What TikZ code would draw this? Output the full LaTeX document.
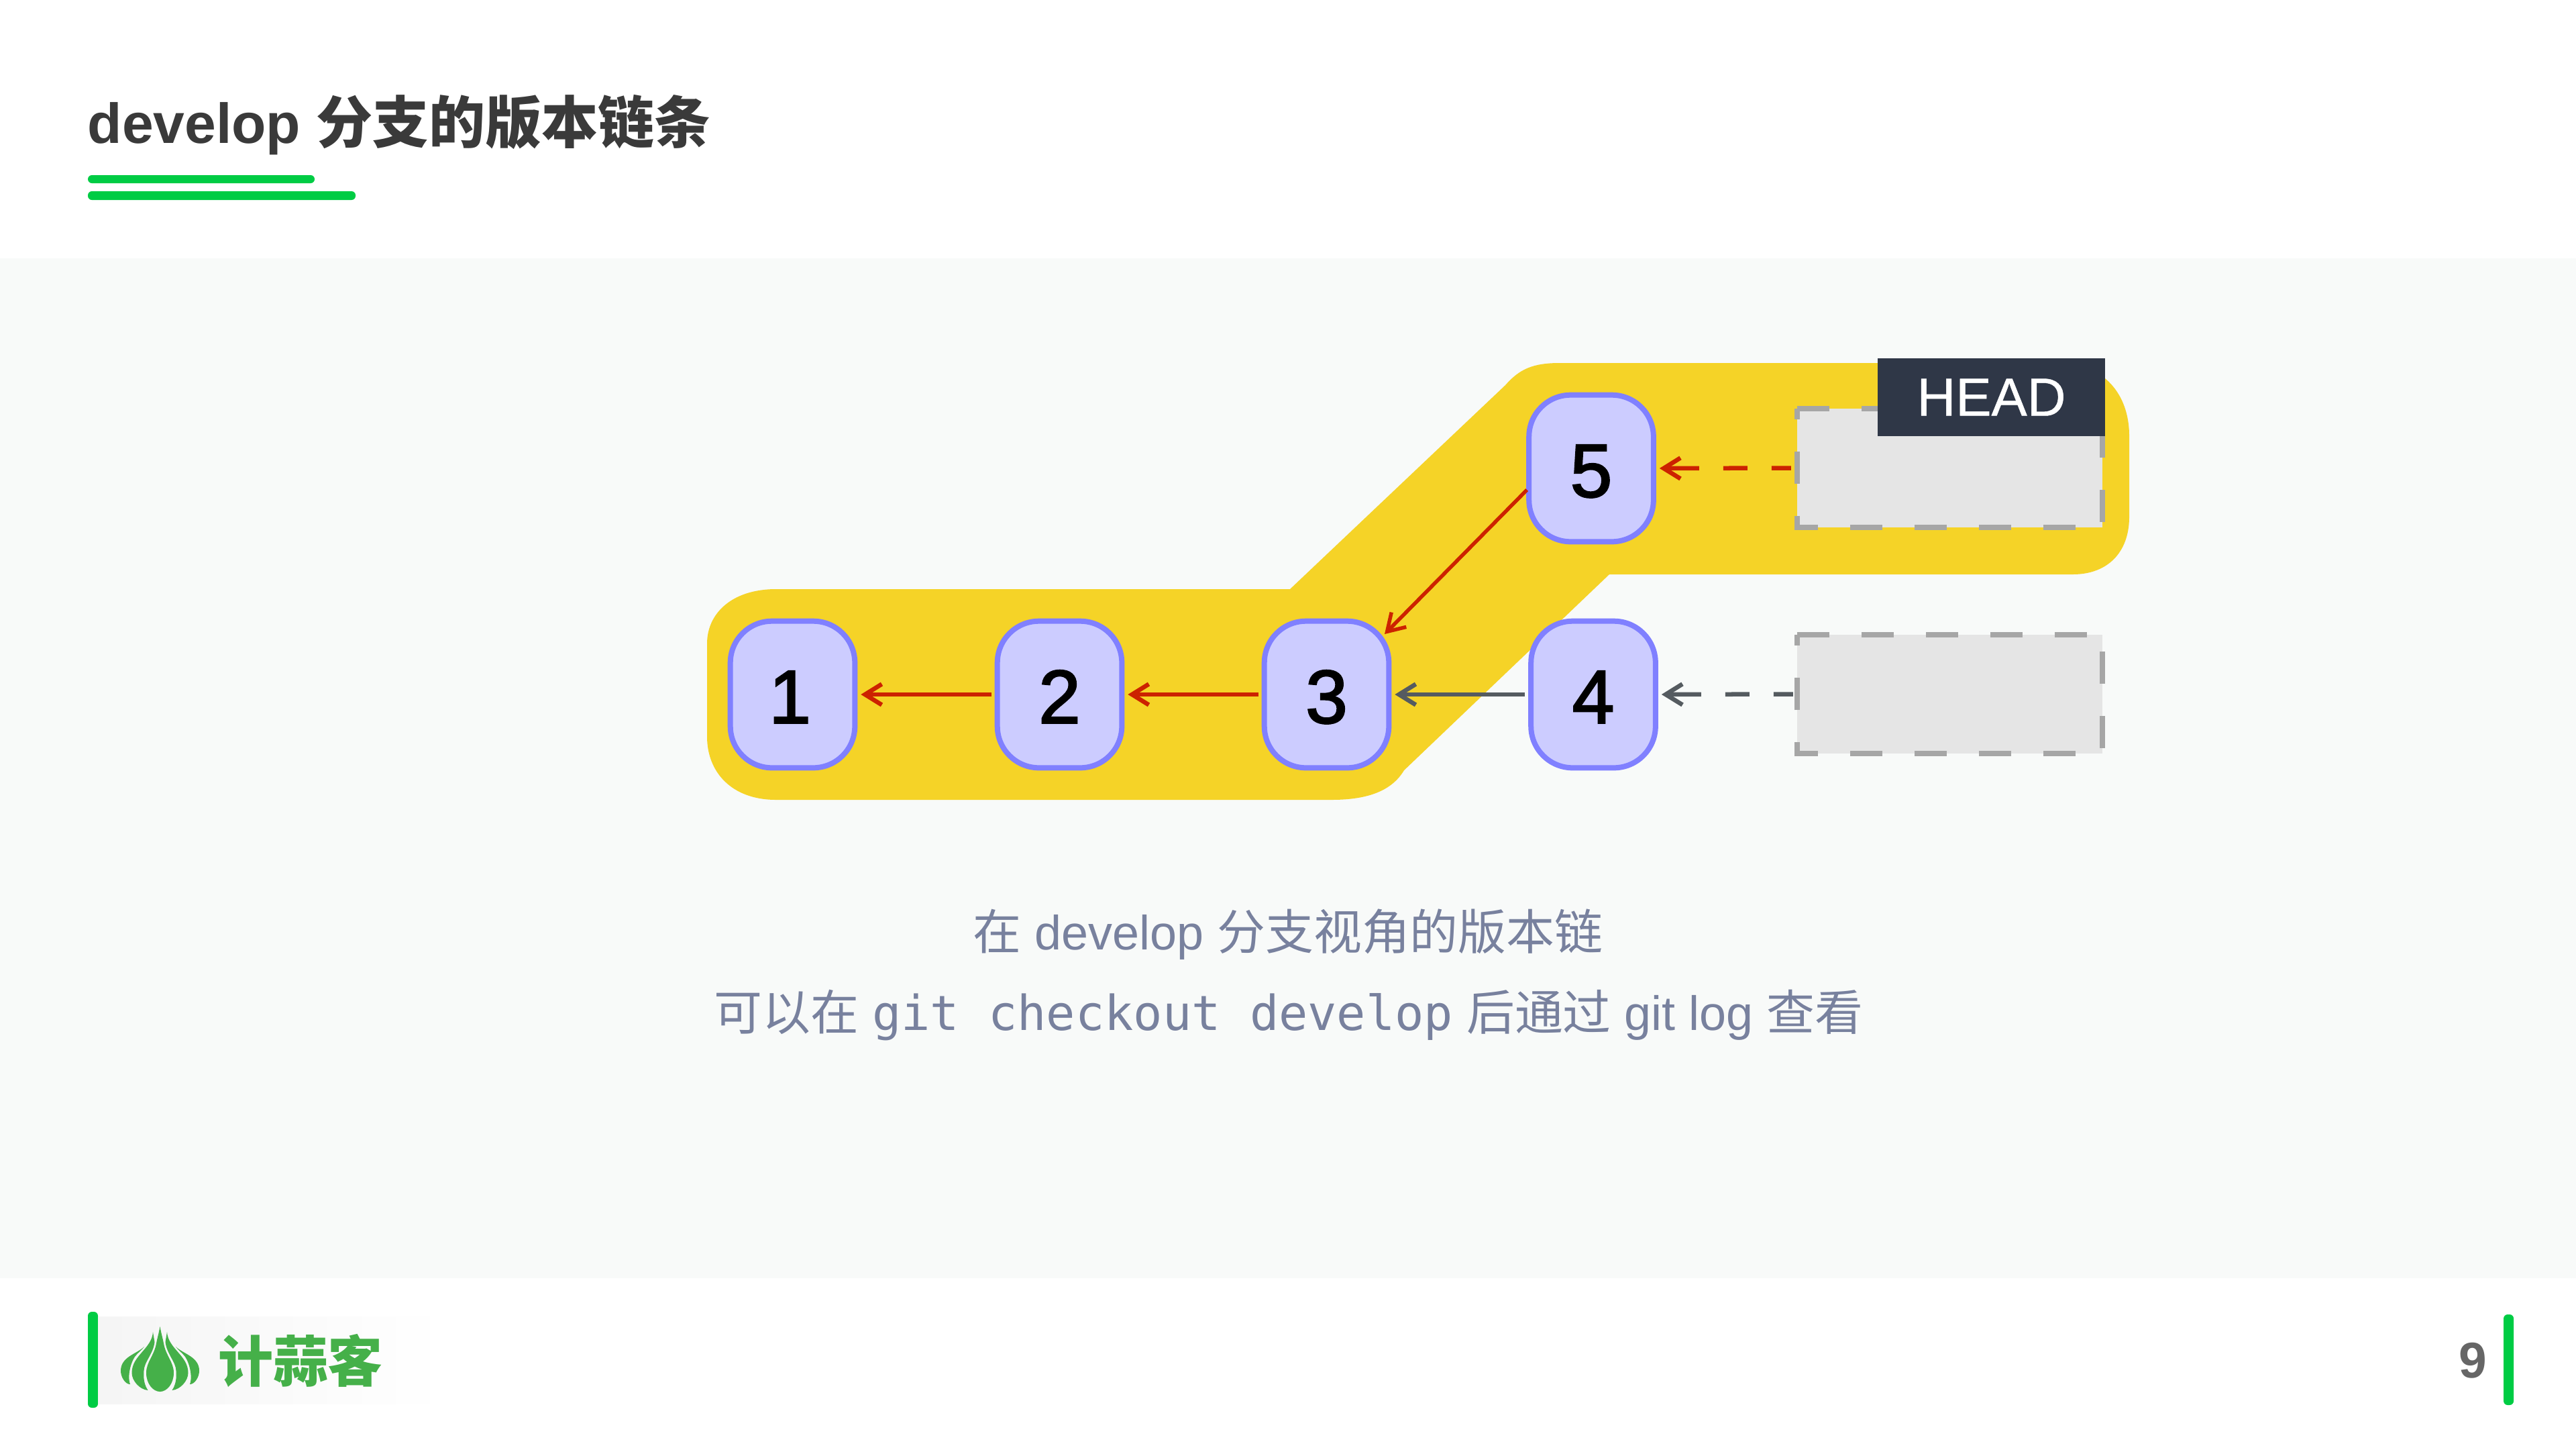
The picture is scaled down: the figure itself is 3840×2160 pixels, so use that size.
\documentclass[tikz,border=0pt]{standalone}
\usepackage{fontspec}
\setmainfont{Liberation Sans}
\newfontfamily\cjk{Noto Sans CJK SC}
\newfontfamily\monof{DejaVu Sans Mono}
\newfontfamily\digitf[FakeBold=2.2]{Liberation Sans}
\newfontfamily\headf[FakeBold=0.6]{Liberation Sans}
\usetikzlibrary{arrows.meta,calc}
\definecolor{panelbg}{HTML}{F8FAF9}
\definecolor{hiyellow}{HTML}{F5D327}
\definecolor{nodefill}{HTML}{CCCCFF}
\definecolor{nodeline}{HTML}{8080FF}
\definecolor{redarrow}{HTML}{CC2200}
\definecolor{grayarrow}{HTML}{555B60}
\definecolor{ghostfill}{HTML}{E5E5E5}
\definecolor{ghostline}{HTML}{A6A6A6}
\definecolor{headbg}{HTML}{2F3747}
\definecolor{titlecol}{HTML}{3A3A3A}
\definecolor{capcol}{HTML}{78819E}
\definecolor{accent}{HTML}{00CC44}
\definecolor{logogreen}{HTML}{45B049}
\tikzset{
  commit/.style={draw=nodeline,fill=nodefill,line width=.08cm,rounded corners=.62cm,
    minimum width=1.855cm,minimum height=2.185cm,inner sep=0,outer sep=0,
    text height=.85cm,text depth=0cm,text=black,font=\fontsize{32}{36}\selectfont\digitf},
  ghost/.style={fill=ghostfill,minimum width=4.55cm,minimum height=1.77cm,inner sep=0,outer sep=0},
  ghostedge/.style={draw=ghostline,line width=.08cm,dash pattern=on .48cm off .48cm},
  link/.style={line width=.065cm,-{Straight Barb[length=.25cm,width=.31cm]},shorten >=.09cm,shorten <=.09cm},
  dashlink/.style={link,dash pattern=on .29cm off .36cm on .36cm off .36cm on 1cm},
  capline/.style={anchor=base,text=capcol,font=\fontsize{20.45}{24}\selectfont,inner sep=0},
  bar/.style={fill=accent,rounded corners=.06cm},
}
\begin{document}
\begin{tikzpicture}[x=.01cm,y=-.01cm]
\useasboundingbox (0,0) rectangle (3840,2160);
\fill[white] (0,0) rectangle (3840,2160);
\fill[panelbg] (0,385) rectangle (3840,1905);
% title
\node[anchor=base west,inner sep=0,text=titlecol,font=\fontsize{23.9}{28}\selectfont\bfseries] (title) at (130,213)
  {develop {\cjk 分支的版本链条}};
\fill[bar] (131,261) rectangle (469,273);
\fill[bar] (131,285) rectangle (530,298);
% highlight
\fill[hiyellow] (1157,878) -- (1923,878) -- (2244,574)
  .. controls (2265,550) and (2285,541) .. (2325,541) -- (3090,541)
  .. controls (3150,555) and (3174,600) .. (3174,650) -- (3174,770)
  .. controls (3174,825) and (3140,856) .. (3090,856) -- (2399,856) -- (2093,1148)
  .. controls (2075,1178) and (2040,1192) .. (1985,1192) -- (1157,1192)
  .. controls (1090,1192) and (1054,1150) .. (1054,1098) -- (1054,959)
  .. controls (1054,915) and (1090,878) .. (1157,878) -- cycle;
% ghosts
\node[ghost] (g5) at (2906.5,697.5) {};
\node[ghost] (g4) at (2906.5,1034.5) {};
\draw[ghostedge] (g5.north west) -- (g5.north east) -- (g5.south east) -- (g5.south west) -- cycle;
\draw[ghostedge] (g4.north west) -- (g4.north east) -- (g4.south east) -- (g4.south west) -- cycle;
\node[fill=headbg,minimum width=3.38cm,minimum height=1.16cm,inner sep=0,outer sep=0,text=white,font=\fontsize{22.7}{26}\selectfont\headf] (head) at (2968.5,592) {HEAD};
% commits
\node[commit] (n1) at (1181.5,1035) {1\hspace*{.08cm}};
\node[commit] (n2) at (1579.5,1035) {2};
\node[commit] (n3) at (1977.5,1035) {3};
\node[commit] (n4) at (2375,1035) {4};
\node[commit] (n5) at (2372,698) {5};
% connectors
\draw[link,redarrow] (n2.west) -- (n1.east);
\draw[link,redarrow] (n3.west) -- (n2.east);
\draw[link,grayarrow] (n4.west) -- (n3.east);
\draw[link,redarrow,line width=.055cm,shorten <=0cm,shorten >=0cm] ($(n5.west)+(-3,32)$) -- ($(n3.center)+(86.5,-90)$);
\draw[dashlink,redarrow] (g5.west) -- (n5.east);
\draw[dashlink,grayarrow,shorten <=.06cm] (g4.west) -- (n4.east);
% caption
\node[capline] (cap1) at (1920,1415) {{\cjk 在} develop {\cjk 分支视角的版本链}};
\node[capline] (cap2) at (1921,1535) {{\cjk 可以在} {\monof git checkout develop} {\cjk 后通过} git log {\cjk 查看}};
% footer
\fill[bar] (131,1955) rectangle (146,2098);
\shade[left color=black!4,middle color=black!3,right color=white] (146,1962) rectangle (666,2092);
\fill[logogreen] (238.5,1977) .. controls (236,1990) and (235,1992) .. (233,2002)
  .. controls (230,2020) and (218,2030) .. (218,2046)
  .. controls (218,2062) and (228,2074) .. (238.5,2074)
  .. controls (249,2074) and (259,2062) .. (259,2046)
  .. controls (259,2030) and (247,2020) .. (244,2002)
  .. controls (242,1992) and (241,1990) .. (238.5,1977) -- cycle;
\foreach \sgn in {1,-1}{
\begin{scope}[shift={(238.5,0)},xscale=\sgn]
  \fill[logogreen] (-10.5,1985) .. controls (-12,2010) and (-42,2020) .. (-42,2046)
    .. controls (-42,2058) and (-30,2071) .. (-18,2072)
    .. controls (-26,2060) and (-24,2047) .. (-24,2043)
    .. controls (-24,2030) and (-10,2018) .. (-8,2000) -- cycle;
  \fill[logogreen] (-23.5,2007) .. controls (-35,2018) and (-58.5,2022) .. (-58.5,2043)
    .. controls (-58.5,2052) and (-52,2063) .. (-44.5,2063)
    .. controls (-48,2055) and (-46,2035) .. (-37.5,2022)
    .. controls (-33,2016) and (-27,2012) .. (-23.5,2007) -- cycle;
\end{scope}
}
\node[anchor=center,inner sep=0,text=logogreen,font=\fontsize{23.3}{28}\selectfont\cjk\bfseries] (brand) at (448,2028) {计蒜客};
\node[anchor=center,inner sep=0,text=black!60,font=\fontsize{21.3}{26}\selectfont\bfseries] (pg) at (3686,2028) {9};
\fill[bar] (3732,1959) rectangle (3747,2094);
\end{tikzpicture}
\end{document}
